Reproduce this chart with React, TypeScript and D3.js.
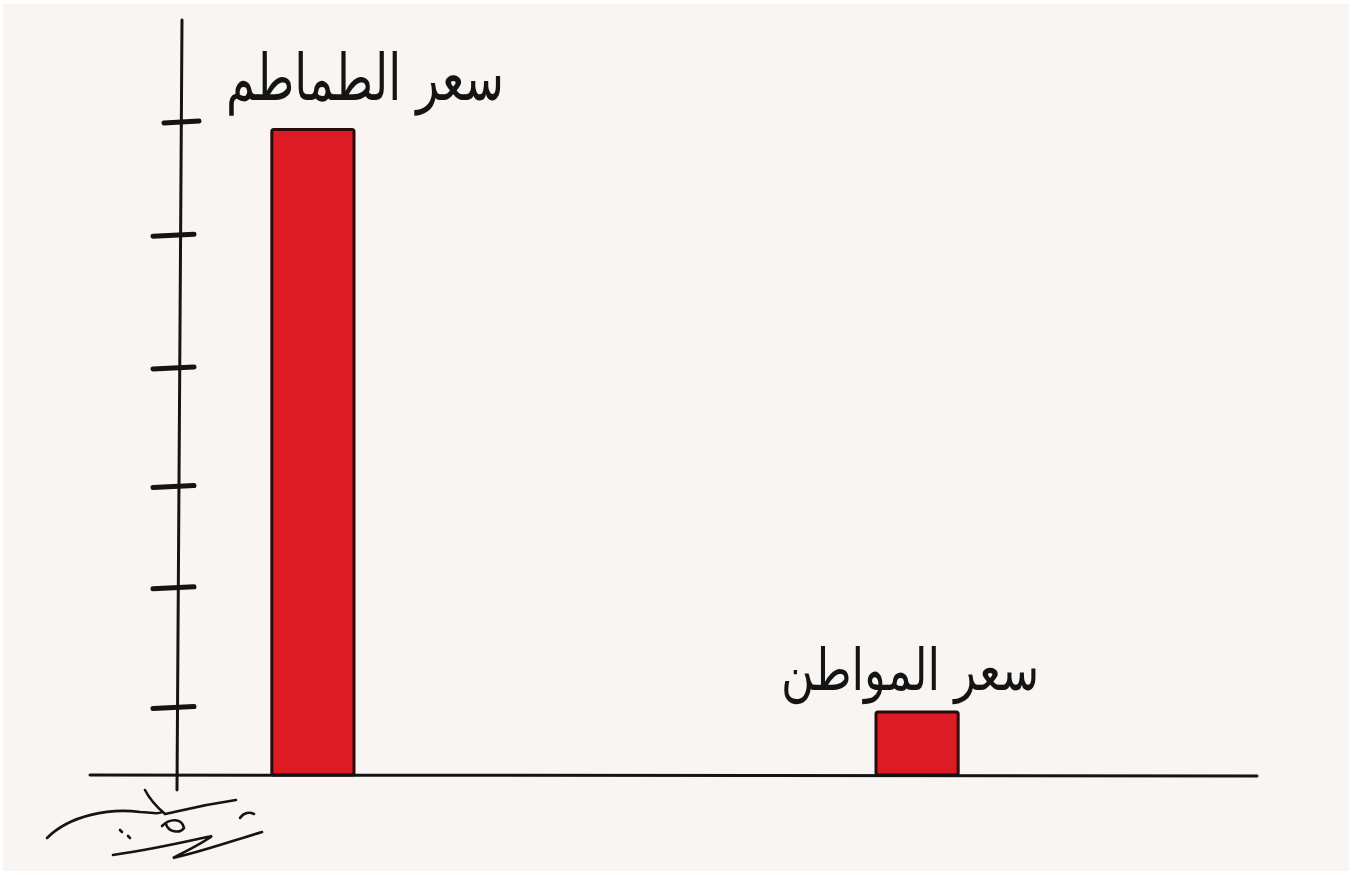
import * as d3 from 'd3'
import { useEffect, useRef } from 'react'

// two bars: price of tomatoes vs price of the citizen
const categories = ['سعر الطماطم', 'سعر المواطن']
const values = [5.93, 0.58]
// hand-drawn ticks, not evenly spaced
const tickValues = [0.62, 1.72, 2.65, 3.74, 4.96, 6]

const W = 1352
const H = 875

export default function App() {
  const svgRef = useRef<SVGSVGElement | null>(null)

  useEffect(() => {
    if (!svgRef.current)
      return
    document.body.style.margin = '0'

    const svg = d3.select(svgRef.current)
    svg.selectAll('*').remove()

    const axisX = 180
    const baseY = 775

    // paper
    svg.append('rect').attr('width', W).attr('height', H).attr('fill', '#ffffff')
    svg.append('rect')
      .attr('x', 3).attr('y', 4)
      .attr('width', W - 6).attr('height', H - 8)
      .attr('fill', '#f8f5f2')

    const y = d3.scaleLinear().domain([0, 6]).range([baseY, 122])

    const x = d3.scaleBand<string>()
      .domain(categories)
      .range([axisX, 1050])
      .paddingInner(0.864)
      .paddingOuter(0.152)

    const ink = '#141414'

    // bars
    svg.append('g')
      .selectAll('rect')
      .data(values)
      .enter()
      .append('rect')
      .attr('x', (_, i) => x(categories[i]) || 0)
      .attr('y', d => y(d))
      .attr('width', x.bandwidth())
      .attr('height', d => baseY - y(d))
      .attr('rx', 2)
      .attr('fill', '#dc1b24')
      .attr('stroke', '#2a0a0a')
      .attr('stroke-width', 3)

    // x axis line
    svg.append('line')
      .attr('x1', 90).attr('x2', 1257)
      .attr('y1', baseY).attr('y2', baseY + 1)
      .attr('stroke', ink).attr('stroke-width', 3)
      .attr('stroke-linecap', 'round')

    // y axis line, a little slanted like the drawing
    svg.append('line')
      .attr('x1', 182).attr('y1', 20)
      .attr('x2', 177).attr('y2', 790)
      .attr('stroke', ink).attr('stroke-width', 3)
      .attr('stroke-linecap', 'round')

    // ticks crossing the axis
    svg.append('g')
      .selectAll('line')
      .data(tickValues)
      .enter()
      .append('line')
      .attr('x1', (_, i) => (i === tickValues.length - 1 ? 164 : 153))
      .attr('x2', (_, i) => (i === tickValues.length - 1 ? 199 : 194))
      .attr('y1', d => y(d) + 1)
      .attr('y2', d => y(d) - 1)
      .attr('stroke', ink)
      .attr('stroke-width', 5)
      .attr('stroke-linecap', 'round')

    // labels above bars
    const labelShift = [52, -7]
    const labelLift = [30, 22]
    const labelWidth = [278, 258]
    svg.append('g')
      .selectAll('text')
      .data(values)
      .enter()
      .append('text')
      .attr('x', (_, i) => (x(categories[i]) || 0) + x.bandwidth() / 2 + labelShift[i])
      .attr('y', (d, i) => y(d) - labelLift[i])
      .attr('text-anchor', 'middle')
      .attr('direction', 'rtl')
      .attr('textLength', (_, i) => labelWidth[i])
      .attr('lengthAdjust', 'spacingAndGlyphs')
      .attr('font-family', '"DejaVu Sans", sans-serif')
      .attr('font-size', (_, i) => (i === 0 ? 64 : 58))
      .attr('fill', ink)
      .text((_, i) => categories[i])

    // artist signature scribble
    const sig = svg.append('g')
      .attr('fill', 'none')
      .attr('stroke', ink)
      .attr('stroke-width', 2.6)
      .attr('stroke-linecap', 'round')
    sig.append('path').attr('d', 'M47,838 C70,815 110,808 140,812 C150,812 158,815 162,812')
    sig.append('path').attr('d', 'M145,790 C150,800 158,808 165,814 C175,812 195,806 236,800')
    sig.append('path').attr('d', 'M162,826 C170,818 182,818 184,828 C180,834 168,832 166,824')
    sig.append('path').attr('d', 'M113,855 C150,850 185,842 212,836 C200,845 178,855 173,858 C200,852 235,840 262,832')
    sig.append('path').attr('d', 'M240,818 C244,812 250,812 254,814')
    sig.append('path').attr('d', 'M120,830 L122,832 M128,836 L130,838')
  }, [])

  return (
    <svg ref={svgRef} width={W} height={H} style={{ display: 'block' }}></svg>
  )
}
